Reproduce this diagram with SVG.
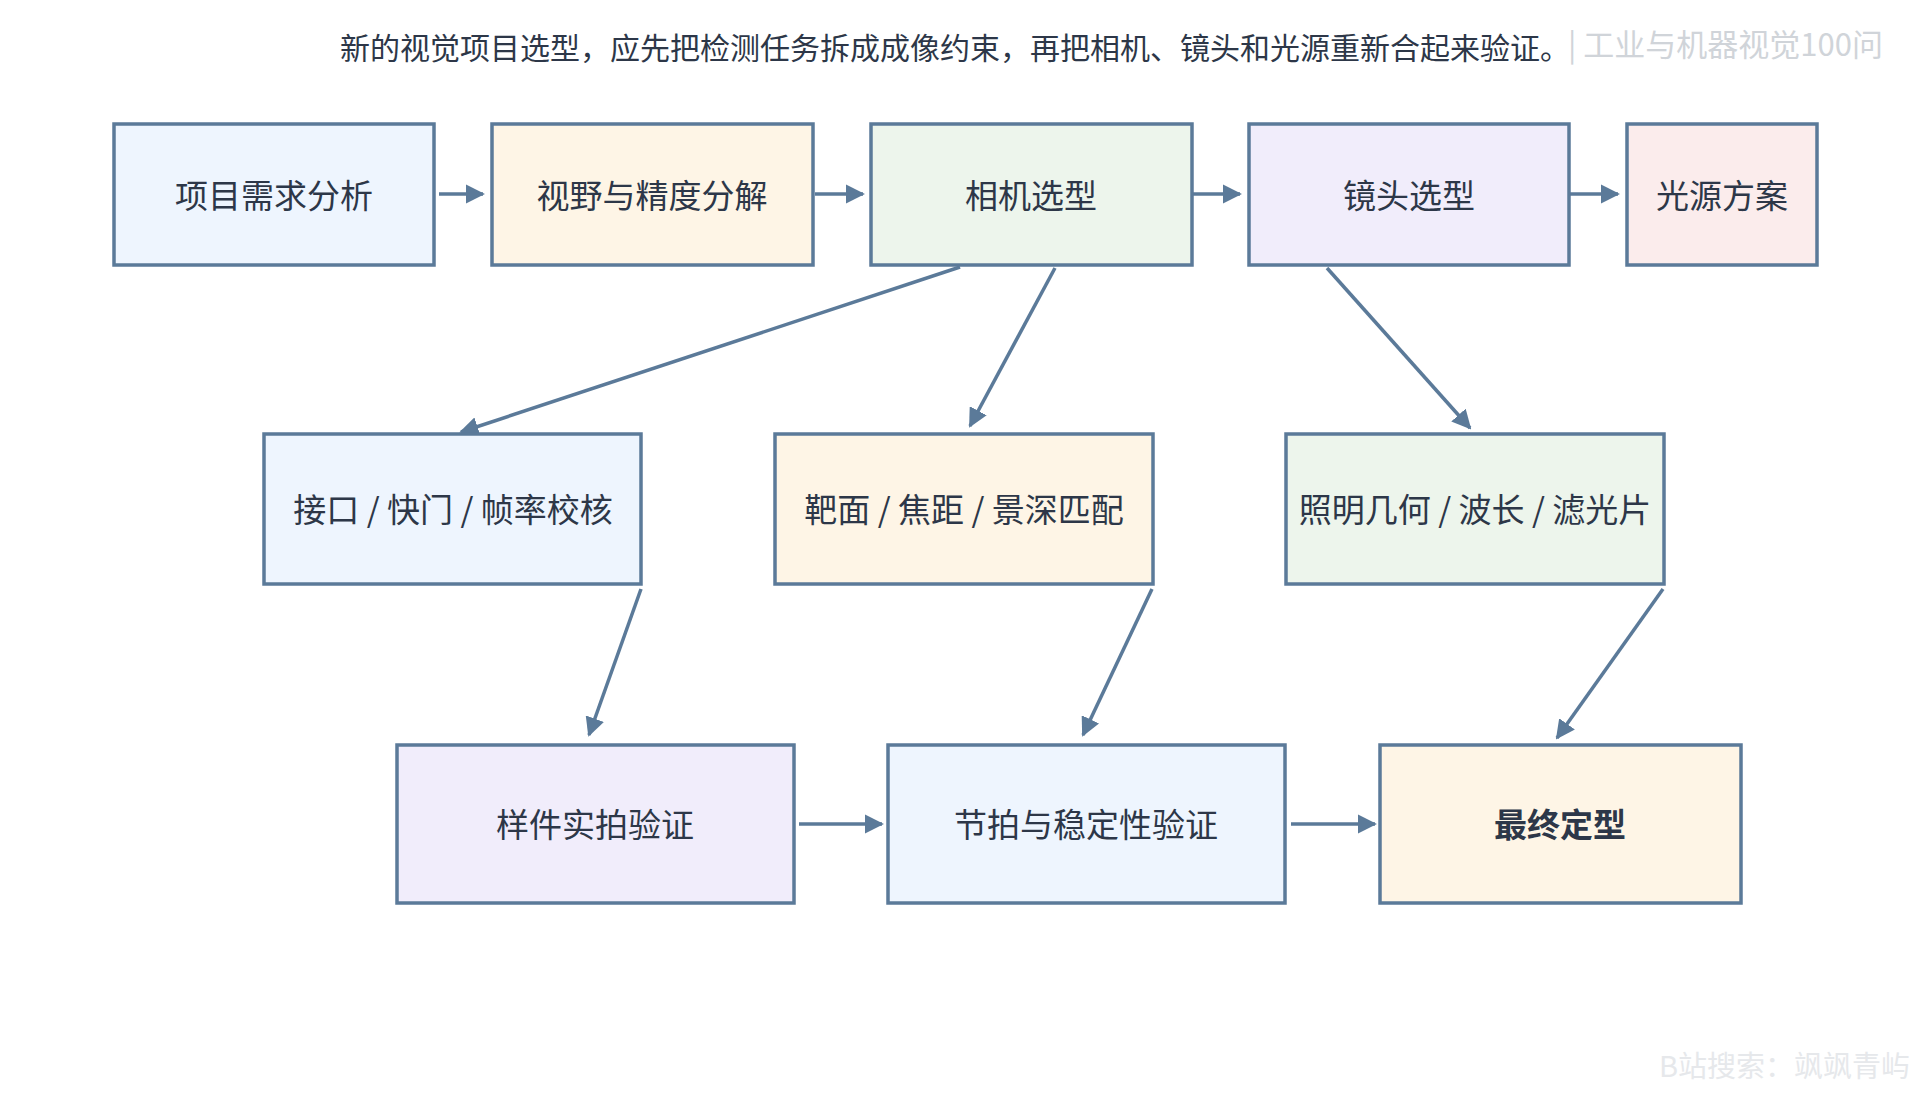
<svg xmlns="http://www.w3.org/2000/svg" width="1926" height="1098" viewBox="0 0 1926 1098">
<defs>
<marker id="ah" viewBox="0 0 10 10" refX="9" refY="5" markerWidth="5.5" markerHeight="5.5" orient="auto" markerUnits="strokeWidth"><path d="M0,0 L10,5 L0,10 z" fill="#5b7a99"/></marker>
<style>
.n{stroke:#5b7a99;stroke-width:3.5}
.t{font-family:"Noto Sans CJK SC","Noto Sans",sans-serif;font-size:33px;fill:#2d3748;text-anchor:middle;dominant-baseline:central}
.c{stroke:#5b7a99;stroke-width:3.5;fill:none;marker-end:url(#ah)}
.blue{fill:#eef5fe}.org{fill:#fef5e6}.grn{fill:#edf5ec}.pur{fill:#f1edfb}.pnk{fill:#fbecec}
.wm{font-family:"Noto Sans CJK SC","Noto Sans",sans-serif;fill:#d0d4d9}
</style>
</defs>
<rect width="1926" height="1098" fill="#fff"/>
<text x="955" y="46" class="t" style="font-size:30px">新的视觉项目选型，应先把检测任务拆成成像约束，再把相机、镜头和光源重新合起来验证。</text>
<text x="1568" y="42" class="wm" style="font-size:31px;dominant-baseline:central">| 工业与机器视觉100问</text>
<text x="1910" y="1064" class="wm" style="font-size:29px;text-anchor:end;dominant-baseline:central;fill:#e6e8eb">B站搜索：飒飒青屿</text>
<g id="connectors">
<path class="c" d="M439,194 L483,194"/>
<path class="c" d="M815,194 L863,194"/>
<path class="c" d="M1193,194 L1240,194"/>
<path class="c" d="M1570,194 L1618,194"/>
<path class="c" d="M960,267 L461,432"/>
<path class="c" d="M1055,268 L970,426"/>
<path class="c" d="M1327,268 L1470,428"/>
<path class="c" d="M641,589 L589,735"/>
<path class="c" d="M1152,589 L1083,735"/>
<path class="c" d="M1663,589 L1557,738"/>
<path class="c" d="M799,824 L882,824"/>
<path class="c" d="M1291,824 L1375,824"/>
</g>
<g id="n1"><rect class="n blue" x="114" y="124" width="320" height="141"/><text class="t" x="274" y="194">项目需求分析</text></g>
<g id="n2"><rect class="n org" x="492" y="124" width="321" height="141"/><text class="t" x="652" y="194">视野与精度分解</text></g>
<g id="n3"><rect class="n grn" x="871" y="124" width="321" height="141"/><text class="t" x="1031" y="194">相机选型</text></g>
<g id="n4"><rect class="n pur" x="1249" y="124" width="320" height="141"/><text class="t" x="1409" y="194">镜头选型</text></g>
<g id="n5"><rect class="n pnk" x="1627" y="124" width="190" height="141"/><text class="t" x="1722" y="194">光源方案</text></g>
<g id="n6"><rect class="n blue" x="264" y="434" width="377" height="150"/><text class="t" x="453" y="508">接口 / 快门 / 帧率校核</text></g>
<g id="n7"><rect class="n org" x="775" y="434" width="378" height="150"/><text class="t" x="964" y="508">靶面 / 焦距 / 景深匹配</text></g>
<g id="n8"><rect class="n grn" x="1286" y="434" width="378" height="150"/><text class="t" x="1475" y="508">照明几何 / 波长 / 滤光片</text></g>
<g id="n9"><rect class="n pur" x="397" y="745" width="397" height="158"/><text class="t" x="595" y="823">样件实拍验证</text></g>
<g id="n10"><rect class="n blue" x="888" y="745" width="397" height="158"/><text class="t" x="1086" y="823">节拍与稳定性验证</text></g>
<g id="n11"><rect class="n org" x="1380" y="745" width="361" height="158"/><text class="t" x="1560" y="823" style="font-weight:bold">最终定型</text></g>
</svg>
